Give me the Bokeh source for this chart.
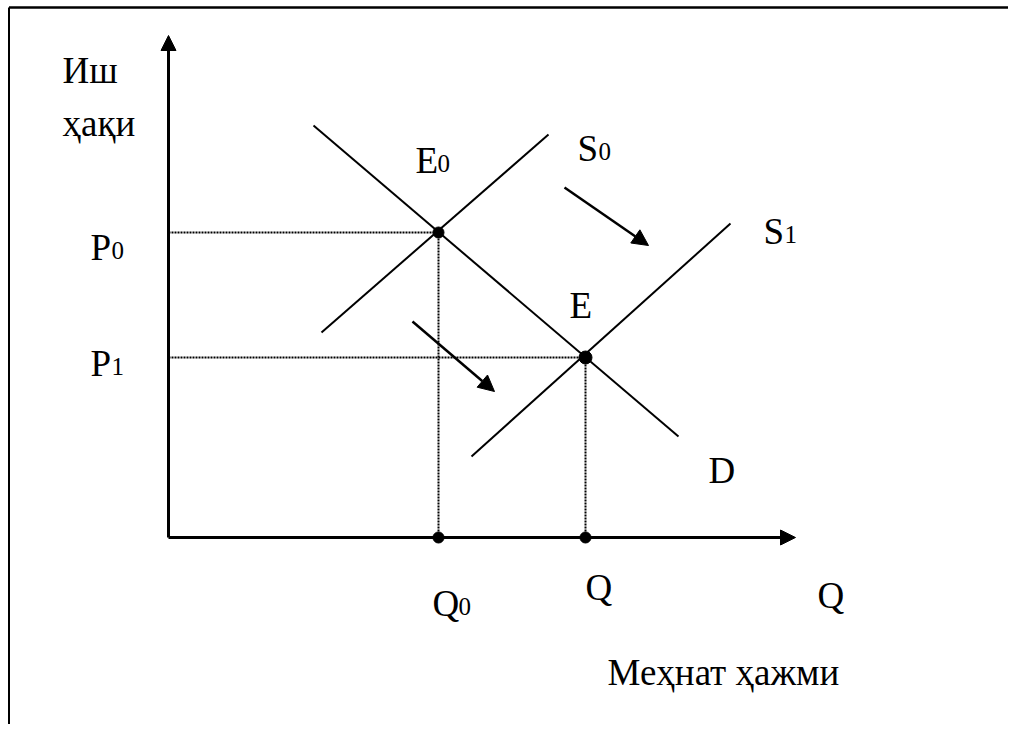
from bokeh.plotting import figure
from bokeh.models import Range1d, Arrow, NormalHead, ColumnDataSource
from bokeh.core.properties import value
from bokeh.embed import file_html
from bokeh.resources import INLINE

# ---- data (quantity of labour Q, wage W) ----
D_q = [14.5, 51.0]
D_w = [41.2, 10.1]
S0_q = [15.3, 38.0]
S0_w = [20.5, 40.3]
S1_q = [30.3, 56.2]
S1_w = [8.1, 31.4]
eq_q = [27.0, 41.7]          # Q0, Q
eq_w = [30.5, 18.0]          # P0, P1
axis_q_max = 62.7
axis_w_max = 50.2
shift_arrows_start_q = [39.6, 24.4]
shift_arrows_start_w = [35.0, 21.6]
shift_arrows_end_q = [48.0, 32.6]
shift_arrows_end_w = [29.2, 14.6]

main_labels = ["Иш", "ҳақи", "P", "P", "E", "S", "S", "E", "D", "Q", "Q", "Q", "Меҳнат ҳажми"]
main_x = [-10.6, -10.6, -7.8, -7.8, 24.7, 40.9, 59.5, 40.1, 54.0, 26.4, 41.7, 64.9, 43.9]
main_y = [46.7, 41.4, 29.0, 17.4, 37.7, 38.9, 30.6, 23.2, 6.7, -6.6, -5.0, -5.8, -13.5]
sub_labels = ["0", "1", "0", "0", "1", "0"]
sub_x = [-5.7, -5.7, 26.9, 43.0, 61.6, 29.0]
sub_y = [28.7, 17.1, 37.4, 38.6, 30.3, -6.9]

W, H = 1008, 724
x0, y1 = -16.8, 53.7
p = figure(width=W, height=H, output_backend="svg", toolbar_location=None,
           x_axis_type=None, y_axis_type=None, min_border=0,
           x_range=Range1d(x0, x0 + W / 10), y_range=Range1d(y1 - H / 10, y1))
p.outline_line_color = None
p.background_fill_color = "white"
p.border_fill_color = "white"

# frame border (top and left, meeting at the corner)
bx, by = -15.95, 53.0
p.segment(x0=[bx, bx], y0=[by, by], x1=[x0 + W / 10, bx], y1=[by, y1 - H / 10],
          line_color="black", line_width=[2.5, 2])

# dotted guide lines
for q, w in zip(eq_q, eq_w):
    p.line([0, q], [w, w], line_color="black", line_width=2, line_dash="2 1")
    p.line([q, q], [0, w], line_color="black", line_width=2, line_dash="2 1")

# curves
p.line(D_q, D_w, line_color="black", line_width=2)
p.line(S0_q, S0_w, line_color="black", line_width=2)
p.line(S1_q, S1_w, line_color="black", line_width=2)

# axes with arrow heads
p.add_layout(Arrow(end=NormalHead(size=15, fill_color="black", line_color="black"),
                   x_start=0, y_start=0, x_end=0, y_end=axis_w_max,
                   line_color="black", line_width=3))
p.add_layout(Arrow(end=NormalHead(size=15, fill_color="black", line_color="black"),
                   x_start=0, y_start=0, x_end=axis_q_max, y_end=0,
                   line_color="black", line_width=3))

# shift arrows
for xs, ys, xe, ye in zip(shift_arrows_start_q, shift_arrows_start_w, shift_arrows_end_q, shift_arrows_end_w):
    p.add_layout(Arrow(end=NormalHead(size=16, fill_color="black", line_color="black"),
                       x_start=xs, y_start=ys, x_end=xe, y_end=ye,
                       line_color="black", line_width=2.5))

# equilibrium points and their projections
p.scatter(eq_q, eq_w, size=[11, 13], color="black")
p.scatter(eq_q, [0, 0], size=11, color="black")

src_main = ColumnDataSource(dict(x=main_x, y=main_y, t=main_labels))
p.text("x", "y", text="t", source=src_main, text_font=value("Liberation Serif"),
       text_font_size="37px", text_color="black", text_baseline="alphabetic", text_align="left")
src_sub = ColumnDataSource(dict(x=sub_x, y=sub_y, t=sub_labels))
p.text("x", "y", text="t", source=src_sub, text_font=value("Liberation Serif"),
       text_font_size="25px", text_color="black", text_baseline="alphabetic", text_align="left")

open("out.html", "w").write(file_html(p, INLINE))
